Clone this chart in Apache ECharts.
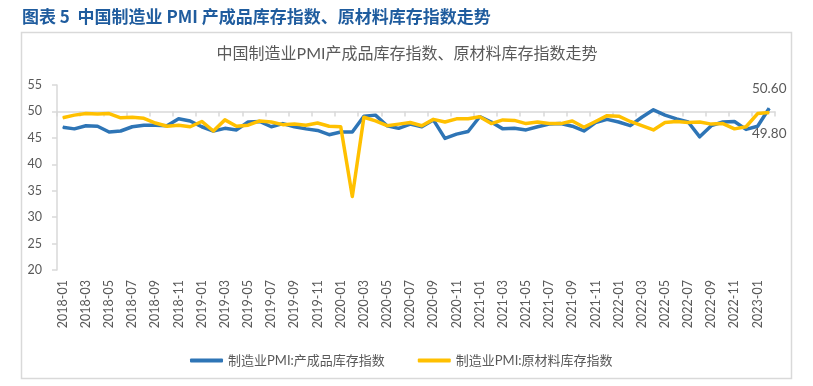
<!DOCTYPE html>
<html>
<head>
<meta charset="utf-8">
<script src="https://cdn.jsdelivr.net/npm/echarts@6/dist/echarts.min.js"></script>
<style>
html,body{margin:0;padding:0;background:#fff;}
#c{width:813px;height:386px;}
</style>
</head>
<body>
<div id="c"></div>
<script>
var headerText = '图表 5  中国制造业 PMI 产成品库存指数、原材料库存指数走势';
var chartTitle = '中国制造业PMI产成品库存指数、原材料库存指数走势';
var seriesNames = ['制造业PMI:产成品库存指数', '制造业PMI:原材料库存指数'];

var categories = [
  '2018-01','2018-02','2018-03','2018-04','2018-05','2018-06','2018-07','2018-08','2018-09','2018-10','2018-11','2018-12',
  '2019-01','2019-02','2019-03','2019-04','2019-05','2019-06','2019-07','2019-08','2019-09','2019-10','2019-11','2019-12',
  '2020-01','2020-02','2020-03','2020-04','2020-05','2020-06','2020-07','2020-08','2020-09','2020-10','2020-11','2020-12',
  '2021-01','2021-02','2021-03','2021-04','2021-05','2021-06','2021-07','2021-08','2021-09','2021-10','2021-11','2021-12',
  '2022-01','2022-02','2022-03','2022-04','2022-05','2022-06','2022-07','2022-08','2022-09','2022-10','2022-11','2022-12',
  '2023-01','2023-02'
];

var finishedGoods = [
  47.0, 46.7, 47.3, 47.2, 46.1, 46.3, 47.1, 47.4, 47.4, 47.3, 48.6, 48.2,
  47.1, 46.3, 46.8, 46.5, 48.0, 48.1, 47.1, 47.7, 47.1, 46.7, 46.4, 45.6,
  46.1, 46.1, 49.1, 49.3, 47.3, 46.8, 47.6, 47.1, 48.4, 44.9, 45.7, 46.2,
  49.0, 48.0, 46.7, 46.8, 46.5, 47.1, 47.6, 47.7, 47.2, 46.3, 47.9, 48.5,
  48.0, 47.3, 48.9, 50.3, 49.3, 48.6, 48.0, 45.2, 47.3, 48.0, 48.1, 46.6,
  47.2, 50.6
];

var rawMaterials = [
  48.8, 49.3, 49.6, 49.5, 49.6, 48.8, 48.9, 48.7, 47.8, 47.2, 47.4, 47.1,
  48.1, 46.3, 48.4, 47.2, 47.4, 48.2, 48.0, 47.5, 47.6, 47.4, 47.8, 47.2,
  47.1, 33.9, 48.9, 48.2, 47.3, 47.6, 47.9, 47.3, 48.5, 48.0, 48.6, 48.6,
  49.0, 47.7, 48.4, 48.3, 47.7, 48.0, 47.7, 47.7, 48.2, 47.0, 48.1, 49.2,
  49.1, 48.1, 47.3, 46.5, 47.9, 48.1, 47.9, 48.0, 47.6, 47.7, 46.7, 47.1,
  49.6, 49.8
];

var yMin = 20, yMax = 55, yInterval = 5, xCross = 50;

var gridTop = 85, gridBottom = 116, gridLeft = 57, gridRight = 38;
var gridH = 386 - gridTop - gridBottom;
var crossOffset = -gridH * (xCross - yMin) / (yMax - yMin);

var FONT = "Lato, 'Noto Sans CJK SC', sans-serif";
var GRAY = '#595959';
var LINEGRAY = '#d9d9d9';
var BLUE = '#2E75B6';
var YELLOW = '#FFC000';

function withLastLabel(arr, pos, dist) {
  return arr.map(function (v, i) {
    if (i === arr.length - 1) {
      return {
        value: v,
        label: {
          show: true, position: pos, distance: dist,
          formatter: function (p) { return Number(p.value).toFixed(2); },
          color: GRAY, fontSize: 13.5, fontFamily: FONT
        }
      };
    }
    return v;
  });
}

var chart = echarts.init(document.getElementById('c'), null, {renderer: 'canvas'});
chart.setOption({
  backgroundColor: '#ffffff',
  animation: false,
  textStyle: {fontFamily: FONT},
  graphic: [
    {
      type: 'text', left: 22, top: 8, z: 10,
      style: {text: headerText, fill: '#1F5C9E', font: "bold 17px 'Noto Sans CJK SC', sans-serif"}
    },
    {
      type: 'rect', z: -1,
      shape: {x: 21.5, y: 32.5, width: 770, height: 346},
      style: {fill: '#fff', stroke: LINEGRAY, lineWidth: 1.5}
    },
    {
      type: 'text', z: 10,
      x: 407, y: 54,
      style: {text: chartTitle, fill: GRAY, font: "16px Lato, 'Noto Sans CJK SC', sans-serif", align: 'center', verticalAlign: 'middle'}
    }
  ],
  legend: {
    left: 185, top: 349,
    icon: 'roundRect', itemWidth: 33, itemHeight: 4, itemGap: 33,
    textStyle: {color: GRAY, fontSize: 13, fontFamily: FONT},
    data: seriesNames
  },
  grid: {left: gridLeft, right: gridRight, top: gridTop, bottom: gridBottom, containLabel: false},
  xAxis: [
    {
      type: 'category', data: categories, boundaryGap: true, position: 'bottom',
      axisLine: {show: false}, axisTick: {show: false},
      axisLabel: {interval: 1, rotate: 90, color: GRAY, fontSize: 12.5, fontFamily: FONT, margin: 10}
    },
    {
      type: 'category', data: categories, boundaryGap: true, position: 'bottom',
      offset: crossOffset,
      axisLine: {show: true, lineStyle: {color: LINEGRAY, width: 1.5}},
      axisTick: {show: true, interval: 1, length: 5, lineStyle: {color: LINEGRAY, width: 1.5}},
      axisLabel: {show: false}
    }
  ],
  yAxis: {
    type: 'value', min: yMin, max: yMax, interval: yInterval,
    axisLine: {show: true, lineStyle: {color: LINEGRAY, width: 1.5}},
    axisTick: {show: true, length: 5, lineStyle: {color: LINEGRAY, width: 1.5}},
    splitLine: {show: false},
    axisLabel: {color: GRAY, fontSize: 12.5, fontFamily: FONT, margin: 15}
  },
  series: [
    {
      name: seriesNames[0], type: 'line', xAxisIndex: 0,
      data: withLastLabel(finishedGoods, 'top', 12),
      symbol: 'circle', symbolSize: 1, showSymbol: true, smooth: false,
      lineStyle: {color: BLUE, width: 3.5, join: 'round'},
      itemStyle: {color: BLUE}, z: 2
    },
    {
      name: seriesNames[1], type: 'line', xAxisIndex: 0,
      data: withLastLabel(rawMaterials, 'bottom', 14),
      symbol: 'circle', symbolSize: 1, showSymbol: true, smooth: false,
      lineStyle: {color: YELLOW, width: 3.5, join: 'round'},
      itemStyle: {color: YELLOW}, z: 3
    }
  ]
});
</script>
</body>
</html>
